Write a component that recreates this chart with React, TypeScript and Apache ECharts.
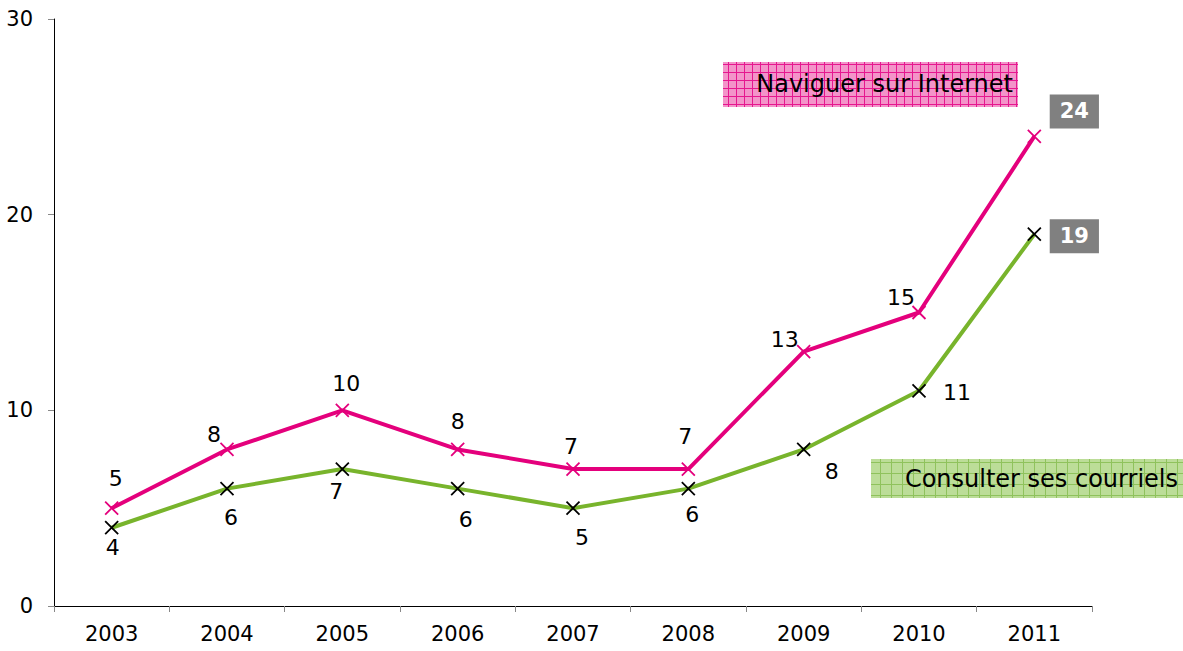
import React, { useEffect, useRef } from "react";
import * as echarts from "echarts";

const years = ["2003", "2004", "2005", "2006", "2007", "2008", "2009", "2010", "2011"];
const internetValues = [5, 8, 10, 8, 7, 7, 13, 15, 24];
const emailValues = [4, 6, 7, 6, 5, 6, 8, 11, 19];
const internetName = "Naviguer sur Internet";
const emailName = "Consulter ses courriels";

// label offsets (centre of label relative to point)
const internetOffsets = [[4, -30], [-13, -15], [4, -27], [0, -28], [-2, -23], [-3, -33], [-19, -12], [-18, -15], [40, -25]];
const emailOffsets = [[1, 20], [4, 29], [-6, 22], [8, 31], [9, 29], [4, 26], [28, 22], [38, 2], [40, 2]];

const FONT = "DejaVu Sans";
const PINK = "#e4007c";
const GREEN = "#78b42c";

function patternUrl(bg: string, line: string, size: number) {
  const svg = `<svg xmlns="http://www.w3.org/2000/svg" width="${size}" height="${size}"><rect width="${size}" height="${size}" fill="${bg}"/><path d="M0 0.5H${size}M0.5 0V${size}" stroke="${line}" stroke-width="1"/></svg>`;
  return "data:image/svg+xml;charset=utf-8," + encodeURIComponent(svg);
}

const crossPath = "path://M0,0L10,10M10,0L0,10";

function buildData(values: number[], offsets: number[][], markerColor: string) {
  return values.map((v, i) => {
    const last = i === values.length - 1;
    return {
      value: v,
      itemStyle: { color: "none", borderColor: markerColor, borderWidth: 1.8 },
      label: last
        ? {
            show: true,
            position: "inside",
            offset: offsets[i],
            color: "#ffffff",
            fontWeight: "bold",
            fontSize: 21,
            fontFamily: FONT,
            backgroundColor: "#808080",
            padding: [7, 10, 6, 10],
          }
        : {
            show: true,
            position: "inside",
            offset: offsets[i],
            color: "#000000",
            fontSize: 22,
            fontFamily: FONT,
          },
    };
  });
}

export default function App() {
  const ref = useRef<HTMLDivElement>(null);
  useEffect(() => {
    if (!ref.current) return;
    const chart = echarts.init(ref.current, null, { renderer: "svg" });
    chart.setOption({
      animation: false,
      backgroundColor: "#ffffff",
      grid: { left: 54, right: 91, top: 19, bottom: 45, containLabel: false },
      xAxis: {
        type: "category",
        data: years,
        boundaryGap: true,
        axisLine: { lineStyle: { color: "#000000", width: 1 } },
        axisTick: { show: true, length: 6, lineStyle: { color: "#888888" } },
        axisLabel: { color: "#000000", fontSize: 21, fontFamily: FONT, margin: 17 },
      },
      yAxis: {
        type: "value",
        min: 0,
        max: 30,
        interval: 10,
        axisLine: { show: true, lineStyle: { color: "#000000", width: 1 } },
        axisTick: { show: true, length: 6, lineStyle: { color: "#888888" } },
        axisLabel: { color: "#000000", fontSize: 21, fontFamily: FONT, margin: 21 },
        splitLine: { show: false },
      },
      graphic: [
        {
          type: "rect",
          shape: { x: 723, y: 62, width: 295, height: 45 },
          style: { fill: { image: patternUrl("#f394c9", "#e6178f", 8), repeat: "repeat" } as any },
          z: 10,
        },
        {
          type: "text",
          x: 1013,
          y: 84,
          style: { text: internetName, fill: "#000000", font: `24px '${FONT}'`, textAlign: "right", textVerticalAlign: "middle" },
          z: 11,
        },
        {
          type: "rect",
          shape: { x: 871, y: 459, width: 312, height: 39 },
          style: { fill: { image: patternUrl("#bcdd98", "#8fc25c", 11), repeat: "repeat" } as any },
          z: 10,
        },
        {
          type: "text",
          x: 1178,
          y: 479,
          style: { text: emailName, fill: "#000000", font: `24px '${FONT}'`, textAlign: "right", textVerticalAlign: "middle" },
          z: 11,
        },
      ],
      series: [
        {
          name: emailName,
          type: "line",
          data: buildData(emailValues, emailOffsets, "#000000"),
          lineStyle: { color: GREEN, width: 4 },
          symbol: crossPath,
          symbolSize: 13,
          showAllSymbol: true,
          z: 3,
        },
        {
          name: internetName,
          type: "line",
          data: buildData(internetValues, internetOffsets, PINK),
          lineStyle: { color: PINK, width: 4 },
          symbol: crossPath,
          symbolSize: 13,
          showAllSymbol: true,
          z: 4,
        },
      ],
    });
    return () => chart.dispose();
  }, []);
  return <div ref={ref} style={{ width: 1183, height: 651, position: "absolute", left: 0, top: 0 }} />;
}
